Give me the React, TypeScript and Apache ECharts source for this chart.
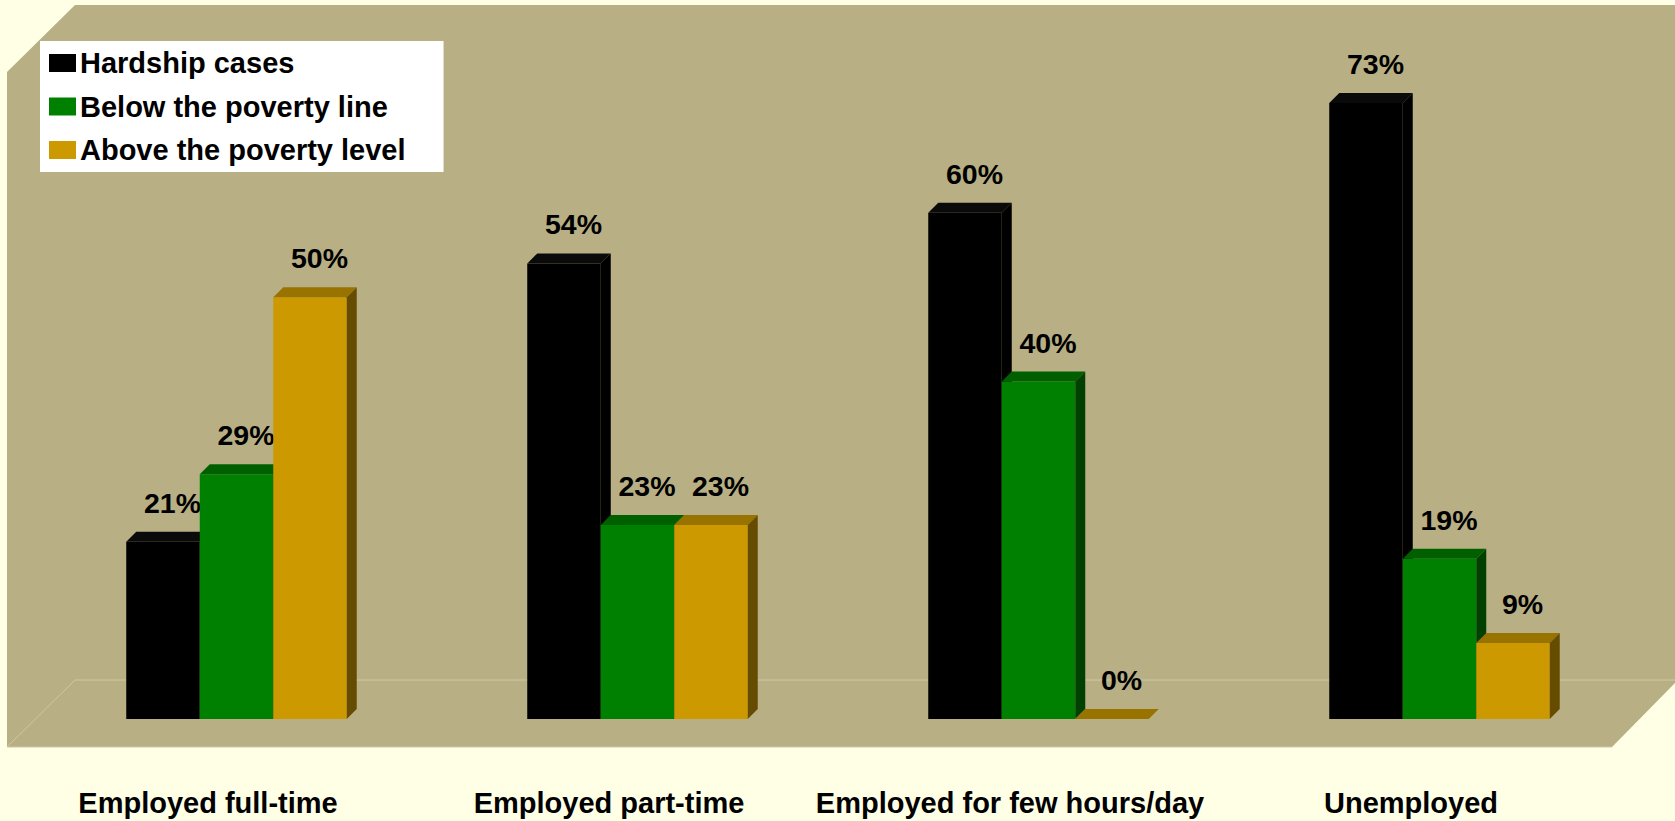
import React, { useEffect, useRef } from "react";
import * as echarts from "echarts";

const categories = [
  "Employed full-time",
  "Employed part-time",
  "Employed for few hours/day",
  "Unemployed",
];
const hardshipCases = [21, 54, 60, 73];
const belowPovertyLine = [29, 23, 40, 19];
const abovePovertyLevel = [50, 23, 0, 9];
const seriesNames = ["Hardship cases", "Below the poverty line", "Above the poverty level"];
const seriesValues = [hardshipCases, belowPovertyLine, abovePovertyLevel];

const FRONT = ["#000000", "#008000", "#CC9900"];
const TOP = ["#0a0a0a", "#006000", "#997300"];
const SIDE = ["#000000", "#004000", "#664C00"];

const FONT = '"Liberation Sans", Arial, sans-serif';
const BAR_W = 73.5;
const DEPTH = 10;

export default function App() {
  const ref = useRef<HTMLDivElement>(null);
  useEffect(() => {
    if (!ref.current) return;
    const chart = echarts.init(ref.current, undefined, { renderer: "svg" });

    const series = seriesNames.map((name, sIdx) => ({
      type: "custom",
      name,
      z: 2,
      itemStyle: { color: FRONT[sIdx] },
      data: seriesValues[sIdx].map((v, i) => [i, v]),
      renderItem: (params: any, api: any) => {
        const cat = api.value(0);
        const val = api.value(1);
        const top = api.coord([cat, val]);
        const base = api.coord([cat, 0]);
        const cx = top[0];
        const yTop = top[1];
        const y0 = base[1];
        const x0 = cx + (sIdx - 1) * BAR_W - BAR_W / 2;
        const x1 = x0 + BAR_W;
        const d = DEPTH;
        return {
          type: "group",
          children: [
            {
              type: "rect",
              shape: { x: x0, y: yTop, width: BAR_W, height: Math.max(0, y0 - yTop) },
              style: { fill: FRONT[sIdx] },
            },
            {
              type: "polygon",
              shape: { points: [[x0, yTop], [x0 + d, yTop - d], [x1 + d, yTop - d], [x1, yTop]] },
              style: { fill: TOP[sIdx] },
            },
            {
              type: "polygon",
              shape: { points: [[x1, yTop], [x1 + d, yTop - d], [x1 + d, y0 - d], [x1, y0]] },
              style: { fill: SIDE[sIdx] },
            },
            {
              type: "text",
              x: (x0 + x1) / 2 + 9.5,
              y: yTop - 39,
              style: {
                text: val + "%",
                fill: "#000",
                font: `bold 28.5px ${FONT}`,
                align: "center",
                verticalAlign: "middle",
              },
            },
          ],
        };
      },
    }));

    const lineColor = "#CFC8A2";
    chart.setOption({
      animation: false,
      backgroundColor: "#FFFFE6",
      grid: { left: 36, right: 35, top: 44, bottom: 102, outerBoundsMode: "none", containLabel: false },
      xAxis: {
        type: "category",
        data: categories,
        axisLine: { show: false },
        axisTick: { show: false },
        splitLine: { show: false },
        axisLabel: {
          interval: 0,
          margin: 69,
          color: "#000",
          fontSize: 29,
          fontWeight: "bold",
          fontFamily: FONT,
          padding: [0, 57, 0, 0],
        },
      },
      yAxis: { type: "value", min: 0, max: 80, show: false, splitLine: { show: false } },
      legend: {
        orient: "vertical",
        left: 40,
        top: 41,
        backgroundColor: "#FFFFFF",
        padding: [7.5, 38, 7.5, 9],
        itemWidth: 27,
        itemHeight: 18,
        itemGap: 14.5,
        icon: "rect",
        selectedMode: false,
        textStyle: { color: "#000", fontSize: 29, fontWeight: "bold", fontFamily: FONT, padding: [0, 0, 0, -1] },
        data: seriesNames,
      },
      graphic: [
        {
          type: "polygon",
          z: 0,
          silent: true,
          shape: {
            points: [[75, 5], [1675, 5], [1675, 683], [1612, 747], [7, 747], [7, 72]],
          },
          style: { fill: "#B8B084" },
        },
        {
          type: "polyline",
          z: 1,
          silent: true,
          shape: { points: [[7, 747], [75, 680], [1675, 680]] },
          style: { stroke: lineColor, lineWidth: 1, fill: "none" },
        },
        {
          type: "line",
          z: 1,
          silent: true,
          shape: { x1: 7, y1: 747, x2: 1612, y2: 747 },
          style: { stroke: lineColor, lineWidth: 1 },
        },
      ],
      series,
    });
    return () => chart.dispose();
  }, []);
  return (
    <div
      ref={ref}
      style={{ position: "fixed", left: 0, top: 0, width: "1675px", height: "821px", background: "#FFFFE6" }}
    />
  );
}
